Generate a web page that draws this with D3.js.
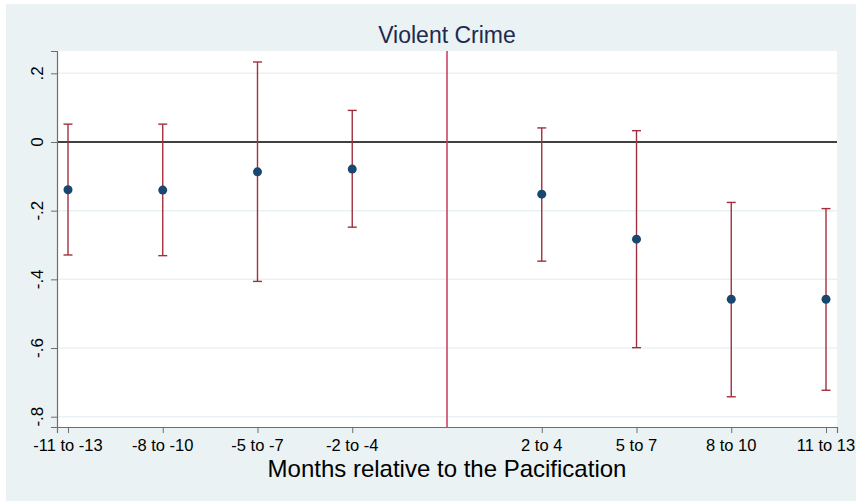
<!DOCTYPE html>
<html>
<head>
<meta charset="utf-8">
<script src="https://cdn.jsdelivr.net/npm/d3@7"></script>
<style>
  html, body { margin: 0; padding: 0; background: #fff; }
  svg { display: block; font-family: "Liberation Sans", Arial, Helvetica, sans-serif; }
</style>
</head>
<body>
<svg id="chart" width="856" height="501"></svg>
<script>
'use strict';

// Event-time bins relative to the pacification (0 = pacification month)
const periods   = [-4, -3, -2, -1, 1, 2, 3, 4];
const labels    = ['-11 to -13', '-8 to -10', '-5 to -7', '-2 to -4',
                   '2 to 4', '5 to 7', '8 to 10', '11 to 13'];
const estimates = [-0.139, -0.140, -0.087, -0.079, -0.152, -0.283, -0.458, -0.458];
const ciLow     = [-0.329, -0.331, -0.406, -0.248, -0.347, -0.599, -0.742, -0.723];
const ciHigh    = [ 0.052,  0.052,  0.233,  0.092,  0.041,  0.033, -0.176, -0.194];
const yTicks    = [0.2, 0, -0.2, -0.4, -0.6, -0.8];
const yTickText = ['.2', '0', '-.2', '-.4', '-.6', '-.8'];

const BG        = '#eaf2f3';
const COLOR_CI  = '#a0303e';
const COLOR_PT  = '#1a476f';
const COLOR_EVT = '#c8385c';

const svg = d3.select('#chart');

const plot = { left: 57, right: 837, top: 51, bottom: 427 };

const x = d3.scaleLinear().domain([-4.116, 4.116]).range([plot.left, plot.right]);
const y = d3.scaleLinear().domain([-0.83, 0.265]).range([plot.bottom, plot.top]);

// ── Backgrounds ───────────────────────────────────────────────
svg.append('rect')
  .attr('x', 6).attr('y', 4)
  .attr('width', 850).attr('height', 497)
  .attr('fill', BG);

svg.append('rect')
  .attr('x', plot.left).attr('y', plot.top)
  .attr('width', plot.right - plot.left)
  .attr('height', plot.bottom - plot.top)
  .attr('fill', '#fff');

// ── Gridlines ─────────────────────────────────────────────────
svg.append('g')
  .selectAll('line')
  .data(yTicks.filter(t => t !== 0))
  .join('line')
    .attr('x1', plot.left).attr('x2', plot.right)
    .attr('y1', d => y(d)).attr('y2', d => y(d))
    .attr('stroke', BG)
    .attr('stroke-width', 1.5);

// zero reference line
svg.append('line')
  .attr('x1', plot.left).attr('x2', plot.right)
  .attr('y1', y(0)).attr('y2', y(0))
  .attr('stroke', '#000')
  .attr('stroke-width', 1.5);

// pacification marker
svg.append('line')
  .attr('x1', x(0)).attr('x2', x(0))
  .attr('y1', plot.top).attr('y2', plot.bottom)
  .attr('stroke', COLOR_EVT)
  .attr('stroke-width', 1.5);

// ── Axes ──────────────────────────────────────────────────────
const yAxis = svg.append('g')
  .attr('transform', `translate(${plot.left},0)`)
  .call(d3.axisLeft(y).tickValues(yTicks).tickSize(6).tickFormat(''));

const xAxis = svg.append('g')
  .attr('transform', `translate(0,${plot.bottom})`)
  .call(d3.axisBottom(x).tickValues(periods).tickSize(6).tickFormat(''));

[yAxis, xAxis].forEach(g => {
  g.select('.domain').attr('stroke', '#6e6e6e').attr('stroke-width', 1.2);
  g.selectAll('.tick line').attr('stroke', '#6e6e6e').attr('stroke-width', 1);
});

// rotated y tick labels
svg.append('g')
  .selectAll('text')
  .data(yTicks)
  .join('text')
    .attr('transform', d => `translate(43,${y(d)}) rotate(-90)`)
    .attr('text-anchor', 'middle')
    .attr('font-size', 17)
    .attr('fill', '#000')
    .text((d, i) => yTickText[i]);

// x tick labels
svg.append('g')
  .selectAll('text')
  .data(periods)
  .join('text')
    .attr('x', d => x(d))
    .attr('y', 451)
    .attr('text-anchor', 'middle')
    .attr('font-size', 16.5)
    .attr('fill', '#000')
    .text((d, i) => labels[i]);

// ── Confidence intervals ──────────────────────────────────────
const CAP = 4.5;
const ci = svg.append('g')
  .attr('stroke', COLOR_CI)
  .attr('stroke-width', 1.4);

ci.selectAll('line.whisker')
  .data(periods)
  .join('line')
    .attr('class', 'whisker')
    .attr('x1', d => x(d)).attr('x2', d => x(d))
    .attr('y1', (d, i) => y(ciLow[i])).attr('y2', (d, i) => y(ciHigh[i]));

ci.selectAll('line.cap-hi')
  .data(periods)
  .join('line')
    .attr('class', 'cap-hi')
    .attr('x1', d => x(d) - CAP).attr('x2', d => x(d) + CAP)
    .attr('y1', (d, i) => y(ciHigh[i])).attr('y2', (d, i) => y(ciHigh[i]));

ci.selectAll('line.cap-lo')
  .data(periods)
  .join('line')
    .attr('class', 'cap-lo')
    .attr('x1', d => x(d) - CAP).attr('x2', d => x(d) + CAP)
    .attr('y1', (d, i) => y(ciLow[i])).attr('y2', (d, i) => y(ciLow[i]));

// ── Point estimates ───────────────────────────────────────────
svg.append('g')
  .selectAll('circle')
  .data(periods)
  .join('circle')
    .attr('cx', d => x(d))
    .attr('cy', (d, i) => y(estimates[i]))
    .attr('r', 4.5)
    .attr('fill', COLOR_PT);

// ── Titles ────────────────────────────────────────────────────
svg.append('text')
  .attr('x', 447).attr('y', 43)
  .attr('text-anchor', 'middle')
  .attr('font-size', 23)
  .attr('fill', '#1c2b4f')
  .text('Violent Crime');

svg.append('text')
  .attr('x', 447).attr('y', 477)
  .attr('text-anchor', 'middle')
  .attr('font-size', 24)
  .attr('fill', '#000')
  .text('Months relative to the Pacification');
</script>
</body>
</html>
